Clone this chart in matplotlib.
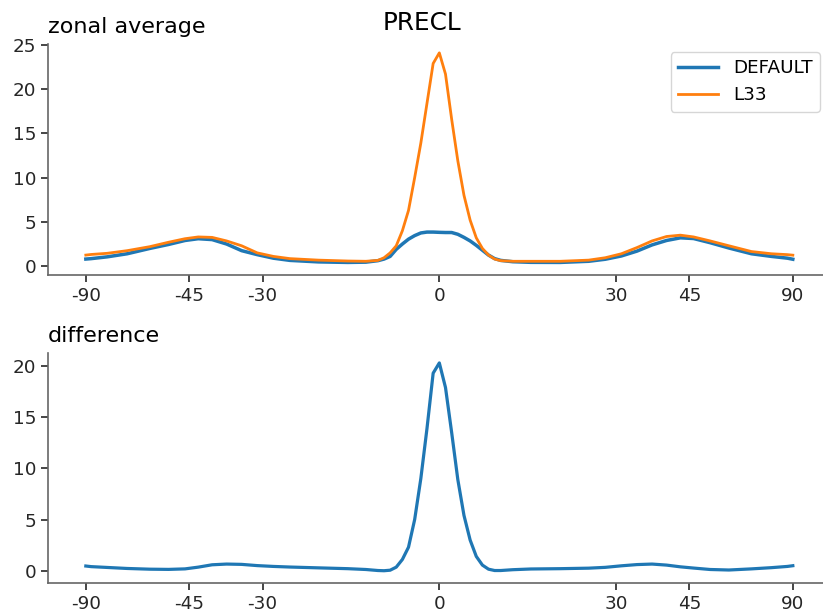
import numpy as np
import matplotlib
matplotlib.use("Agg")
import matplotlib.pyplot as plt

# latitude grid (degrees)
lats = [-90, -80, -70, -62, -55, -50, -46, -43, -40, -37, -34, -31, -28, -25, -20, -15, -12, -10,
        -9, -8, -7, -6, -5, -4, -3, -2, -1, 0, 1, 2, 3, 4, 5, 6, 7, 8, 9, 10, 12, 15, 20, 25,
        28, 31, 34, 37, 40, 43, 46, 50, 55, 62, 70, 80, 90]

default_vals = [0.8, 0.85, 1.05, 1.4, 2.0, 2.45, 2.9, 3.1, 3.0, 2.5, 1.75, 1.3, 0.9, 0.65, 0.48, 0.42, 0.45, 0.62,
                0.8, 1.1, 1.9, 2.5, 3.05, 3.45, 3.75, 3.85, 3.85, 3.82, 3.8, 3.8, 3.6, 3.25, 2.85, 2.35, 1.8, 1.25, 0.85, 0.65, 0.5, 0.43, 0.42, 0.55,
                0.78, 1.15, 1.7, 2.4, 2.9, 3.2, 3.12, 2.65, 2.05, 1.4, 1.1, 0.9, 0.78]

l33_vals = [1.25, 1.32, 1.45, 1.75, 2.2, 2.7, 3.1, 3.3, 3.25, 2.85, 2.3, 1.5, 1.1, 0.85, 0.68, 0.58, 0.55, 0.65,
            0.95, 1.5, 2.3, 4.0, 6.3, 10.0, 13.9, 18.4, 22.9, 24.1, 21.7, 16.6, 11.9, 8.0, 5.2, 3.2, 2.0, 1.25, 0.8, 0.62, 0.55, 0.55, 0.55, 0.68,
            0.95, 1.4, 2.1, 2.85, 3.35, 3.5, 3.3, 2.85, 2.3, 1.65, 1.4, 1.3, 1.24]

diff_vals = [0.46, 0.4, 0.32, 0.22, 0.15, 0.13, 0.18, 0.35, 0.58, 0.65, 0.62, 0.5, 0.42, 0.36, 0.28, 0.2, 0.12, 0.02,
             0.0, 0.05, 0.35, 1.1, 2.3, 5.0, 9.0, 13.9, 19.3, 20.3, 17.9, 13.5, 8.9, 5.4, 3.0, 1.4, 0.55, 0.15, 0.02, 0.02, 0.1, 0.17, 0.2, 0.25,
             0.33, 0.48, 0.6, 0.65, 0.55, 0.38, 0.26, 0.12, 0.07, 0.18, 0.3, 0.42, 0.49]

xtick_lats = [-90, -45, -30, 0, 30, 45, 90]
xtick_labels = ["-90", "-45", "-30", "0", "30", "45", "90"]
series_names = ["DEFAULT", "L33"]
title = "PRECL"

W, H = 823, 613
fig = plt.figure(figsize=(W / 100, H / 100), dpi=100)

x = np.sin(np.deg2rad(lats))
xt = np.sin(np.deg2rad(xtick_lats))

blue = "#1f77b4"
orange = "#ff7f0e"
tick_fs = 13.2

def style(ax):
    for s in ["top", "right"]:
        ax.spines[s].set_visible(False)
    for s in ["left", "bottom"]:
        ax.spines[s].set_color("0.4")
        ax.spines[s].set_linewidth(1.2)
    ax.tick_params(colors="0.15", labelsize=tick_fs, width=1.2, length=5)
    ax.set_xticks(xt)
    ax.set_xticklabels(xtick_labels)
    ax.set_xlim(-1.107, 1.107)

axw = 2.214 * 353.5 / W
ax1 = fig.add_axes([48 / W, 1 - 275 / H, axw, (275 - 44) / H])
ax1.plot(x, default_vals, color=blue, lw=2.5, label=series_names[0])
ax1.plot(x, l33_vals, color=orange, lw=2.0, label=series_names[1])
style(ax1)
ax1.set_ylim(-1.0, 25.1)
ax1.set_yticks([0, 5, 10, 15, 20, 25])
ax1.set_title("zonal average", loc="left", fontsize=16, pad=8)
ax1.legend(loc="upper right", bbox_to_anchor=(820 / W, 1 - 52 / H), bbox_transform=fig.transFigure,
           borderaxespad=0, fontsize=tick_fs, handlelength=2.2, handletextpad=0.8)

ax2 = fig.add_axes([48 / W, 1 - 582.7 / H, axw, (582.7 - 352.7) / H])
ax2.plot(x, diff_vals, color=blue, lw=2.3)
style(ax2)
ax2.set_ylim(-1.17, 21.3)
ax2.set_yticks([0, 5, 10, 15, 20])
ax2.set_title("difference", loc="left", fontsize=16, pad=8)

fig.text(422 / W, 1 - 30 / H, title, ha="center", va="baseline", fontsize=17.8)

fig.savefig("out.png", dpi=100)
